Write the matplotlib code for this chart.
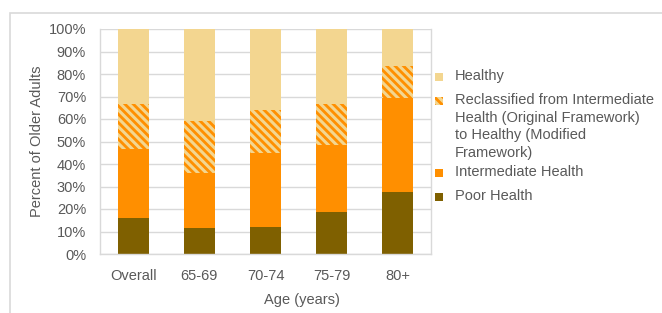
import matplotlib.pyplot as plt
from matplotlib.patches import Rectangle
from matplotlib.ticker import PercentFormatter

plt.rcParams['font.family'] = ['Liberation Sans', 'DejaVu Sans']
plt.rcParams['hatch.linewidth'] = 2.2

ages = ['Overall', '65-69', '70-74', '75-79', '80+']
poor = [16.1, 11.4, 12.1, 18.8, 27.7]
intermediate = [30.4, 24.7, 32.6, 29.6, 41.8]
reclassified = [20.0, 23.2, 19.3, 18.1, 14.2]
healthy = [33.5, 40.7, 36.0, 33.5, 16.3]

c_poor = '#7F6000'
c_inter = '#FF8F00'
c_healthy = '#F3D690'
txt = '#595959'
grid = '#D9D9D9'

fig = plt.figure(figsize=(6.62, 3.13), dpi=100)
# outer chart border
fig.patches.append(Rectangle((10 / 662, -0.1), 1.0, 1 - 13 / 313 + 0.1,
                             transform=fig.transFigure, fill=False,
                             edgecolor='#D9D9D9', linewidth=1.2))
ax = fig.add_axes([100 / 662, 1 - 254 / 313, 331 / 662, 225 / 313])

x = range(len(ages))
w = 0.47
b1 = [p + i for p, i in zip(poor, intermediate)]
b2 = [b + r for b, r in zip(b1, reclassified)]
ax.bar(x, poor, w, color=c_poor, zorder=2)
ax.bar(x, intermediate, w, bottom=poor, color=c_inter, zorder=2)
ax.bar(x, reclassified, w, bottom=b1, facecolor=c_inter,
       edgecolor=c_healthy, linewidth=0, hatch='\\\\\\\\', zorder=2)
ax.bar(x, healthy, w, bottom=b2, color=c_healthy, zorder=2)

ax.set_xlim(-0.5, len(ages) - 0.5)
ax.set_ylim(0, 100)
ax.set_yticks(range(0, 101, 10))
ax.yaxis.set_major_formatter(PercentFormatter(decimals=0))
ax.set_xticks(list(x))
ax.set_xticklabels(ages)
ax.grid(axis='y', color=grid, linewidth=1, zorder=0)
ax.tick_params(axis='both', length=0, labelsize=10.5, labelcolor=txt)
ax.tick_params(axis='x', pad=11)
ax.tick_params(axis='y', pad=10)
ax.spines['top'].set_visible(False)
for s in ['left', 'right', 'bottom']:
    ax.spines[s].set_color(grid)
    ax.spines[s].set_linewidth(1)

ax.set_ylabel('Percent of Older Adults', fontsize=10.5, color=txt, labelpad=3)
fig.text(302 / 662, 1 - 300 / 313, 'Age (years)', ha='center', va='center',
         fontsize=10.5, color=txt)

# legend, drawn by hand so the handle sits beside the first label line
entries = [
    (77, 'Healthy', dict(facecolor=c_healthy)),
    (101, 'Reclassified from Intermediate\nHealth (Original Framework)\nto Healthy (Modified\nFramework)',
     dict(facecolor=c_inter, edgecolor=c_healthy, hatch='\\\\\\\\', linewidth=0)),
    (173, 'Intermediate Health', dict(facecolor=c_inter)),
    (197, 'Poor Health', dict(facecolor=c_poor)),
]
for yc, label, style in entries:
    fig.patches.append(Rectangle((435 / 662, 1 - (yc + 4) / 313), 8 / 662, 8 / 313,
                                 transform=fig.transFigure, **style))
    fig.text(455 / 662, 1 - (yc - 8) / 313, label, ha='left', va='top',
             fontsize=10.5, color=txt, linespacing=1.33)

fig.savefig('out.png', dpi=100)
